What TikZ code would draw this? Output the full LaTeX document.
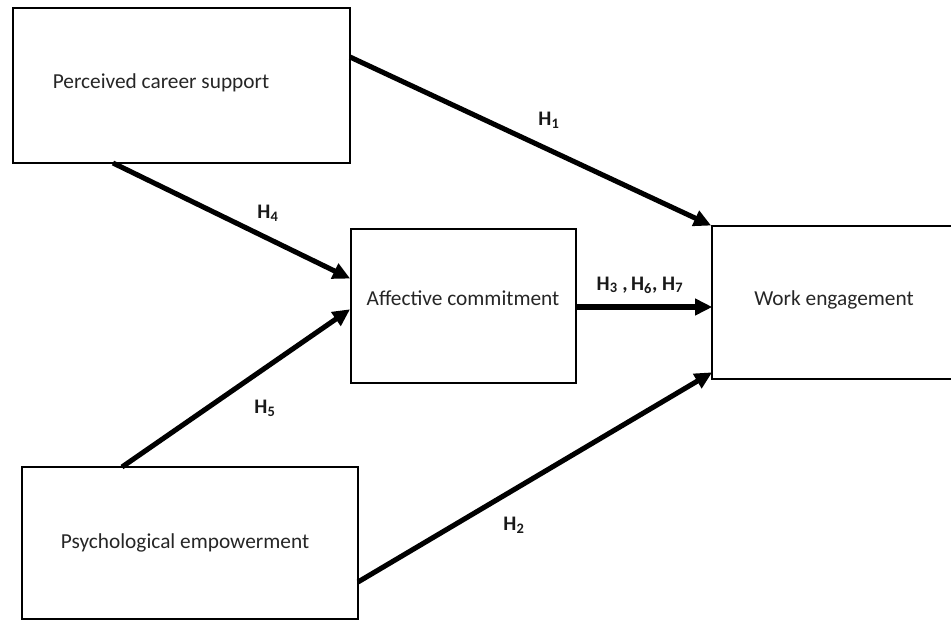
\documentclass[tikz,border=0pt]{standalone}
\usepackage{fontspec}
\setmainfont{Carlito}
\usetikzlibrary{arrows.meta}
\begin{document}
\begin{tikzpicture}[x=0.75pt,y=-0.75pt,
  box/.style={draw=black,line width=2pt,inner sep=0pt,fill=white},
  txt/.style={inner sep=0pt,font=\fontsize{16}{18}\selectfont,text=black!85},
  lab/.style={inner sep=0pt,font=\bfseries\fontsize{15.5}{18}\selectfont,text=black!90},
  arr/.style={line width=3.8pt,-{Triangle[length=13pt,width=12pt]},shorten >=-1pt}]
\useasboundingbox (0,0) rectangle (951,621);
\node[box,minimum width=337*0.75pt,minimum height=155*0.75pt] (pcs) at (181.5,85.5) {};
\node[box,minimum width=225*0.75pt,minimum height=154*0.75pt] (ac) at (463.5,306) {};
\node[box,minimum width=245*0.75pt,minimum height=153*0.75pt] (we) at (834.5,302.5) {};
\node[box,minimum width=336*0.75pt,minimum height=152*0.75pt] (pe) at (190,543) {};
\node[txt] (tpcs) at (161,83) {Perceived career support};
\node[txt] (tac) at (463,298) {Affective commitment};
\node[txt] (twe) at (834,300) {Work engagement};
\node[txt] (tpe) at (185,543) {Psychological empowerment};
\coordinate (pcsR) at (350,57);
\coordinate (pcsB) at (113,163);
\coordinate (peT) at (122,467);
\coordinate (peR) at (358,582);
\coordinate (weTL) at (710,225);
\coordinate (weL) at (711,307);
\coordinate (weBL) at (711,373);
\coordinate (acL1) at (349,278);
\coordinate (acL2) at (349,310);
\coordinate (acR) at (576,307);
\draw[arr] (pcsR) -- (weTL);
\draw[arr] (pcsB) -- (acL1);
\draw[arr] (peT) -- (acL2);
\draw[arr] (acR) -- (weL);
\draw[arr] (peR) -- (weBL);
\node[lab] (h1) at (549,120) {H\textsubscript{1}};
\node[lab] (h4) at (268,213) {H\textsubscript{4}};
\node[lab] (h5) at (265,408) {H\textsubscript{5}};
\node[lab] (h2) at (514,525) {H\textsubscript{2}};
\node[lab] (h367) at (640,285) {H\textsubscript{3} ,\,H\textsubscript{6}, H\textsubscript{7}};
\end{tikzpicture}
\end{document}
